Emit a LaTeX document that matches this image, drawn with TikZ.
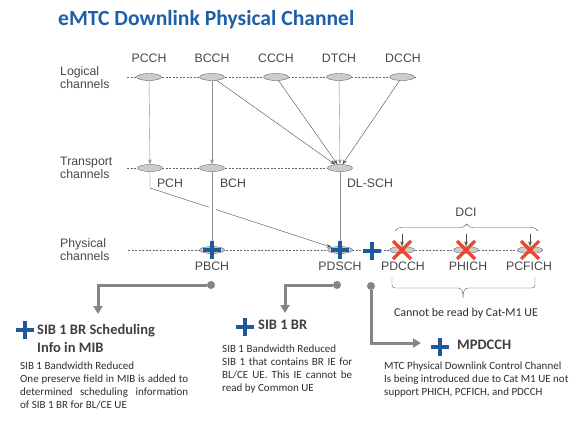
\documentclass[tikz,border=0pt]{standalone}
\usepackage{fontspec}
\setmainfont{Carlito}
\newfontfamily\arialf{Liberation Sans}
\usetikzlibrary{shapes.geometric,arrows.meta,decorations.pathreplacing}
\setlength{\parindent}{0pt}
\definecolor{titleblue}{HTML}{1F5FA8}
\definecolor{plusblue}{HTML}{1E5A9A}
\definecolor{xred}{HTML}{EC4A2C}
\definecolor{txtgray}{HTML}{2E2E2E}
\definecolor{conngray}{HTML}{858585}
\tikzset{
  bplus/.pic={\draw[plusblue,line width=4pt] (-9,0)--(9,0) (0,-9)--(0,9);},
  xmark/.pic={\draw[xred,line width=3.2pt] (-9,-9)--(9,9) (-9,9)--(9,-9);}
}
\begin{document}
\begin{tikzpicture}[x=1pt,y=-1pt]
\tikzstyle{chan} = [ellipse,draw=black!60,fill=black!20,minimum width=25pt,minimum height=7pt,inner sep=0pt] %canaux
\tikzstyle{lbl} = [font=\arialf\fontsize{12.3}{13}\selectfont,text=black!72,inner sep=0pt]
\tikzstyle{row} = [dashed,dash pattern=on 2pt off 1.5pt,black!60]
\tikzstyle{flow} = [black!70,-{Stealth[length=5pt,width=3.5pt]}]
\tikzstyle{flowg} = [black!45,-{Stealth[length=5pt,width=3.5pt]}]
\tikzstyle{dot} = [circle,fill=conngray,minimum size=8pt,inner sep=0pt]
\tikzstyle{conn} = [conngray,line width=3pt,-{Triangle[length=8pt,width=9pt]}]
\tikzstyle{head} = [font=\bfseries\fontsize{14.5}{18}\selectfont,text=black!75,inner sep=0pt]
\tikzstyle{body} = [font=\fontsize{11}{13}\selectfont,text=txtgray,inner sep=0pt]
\useasboundingbox (0,0) rectangle (578,426);

%titre
\node[font=\bfseries\fontsize{21.6}{24}\selectfont,text=titleblue,anchor=west,inner sep=0pt] (title) at (58,20) {eMTC Downlink Physical Channel};

%lignes pointillees
\draw[row] (127,77)--(417,77);
\draw[row] (127,168)--(340,168);
\draw[row] (128,250)--(543,250);

%noms des niveaux
\node[lbl,anchor=west,align=left] (logic) at (60,78) {Logical\\channels};
\node[lbl,anchor=west,align=left] (trans) at (60,168) {Transport\\channels};
\node[lbl,anchor=west,align=left] (phys) at (60,250) {Physical\\channels};

%canaux logiques
\node[chan] (pcch) at (149,77) {};
\node[chan] (bcch) at (212,77) {};
\node[chan] (ccch) at (276,77) {};
\node[chan] (dtch) at (339,77) {};
\node[chan] (dcch) at (402,77) {};
\node[lbl] (pcchT) at (149,58) {PCCH};
\node[lbl] (bcchT) at (212,58) {BCCH};
\node[lbl] (ccchT) at (276,58) {CCCH};
\node[lbl] (dtchT) at (339,58) {DTCH};
\node[lbl] (dcchT) at (403,58) {DCCH};

%canaux de transport
\node[chan] (pch) at (150,168) {};
\node[chan] (bch) at (212,168) {};
\node[chan] (dlsch) at (340,168) {};
\node[lbl] (pchT) at (170,183) {PCH};
\node[lbl] (bchT) at (233,183) {BCH};
\node[lbl] (dlschT) at (370,183) {DL-SCH};

%canaux physiques
\node[chan] (pbch) at (212,250) {};
\node[chan] (pdsch) at (340,250) {};
\node[chan] (pdcch) at (402,250) {};
\node[chan] (phich) at (466,250) {};
\node[chan] (pcfich) at (530,250) {};
\node[lbl] (pbchT) at (212,266) {PBCH};
\node[lbl] (pdschT) at (340,266) {PDSCH};
\node[lbl] (pdcchT) at (403,266) {PDCCH};
\node[lbl] (phichT) at (468,266) {PHICH};
\node[lbl] (pcfichT) at (529,266) {PCFICH};

%fleches
\draw[flowg] (pcch)--(pch);
\draw[flowg] (bcch)--(bch);
\draw[flow] (bcch)--(dlsch);
\draw[flow] (ccch)--(dlsch);
\draw[flowg] (dtch)--(dlsch);
\draw[flow] (dcch)--(dlsch);
\coordinate (bend) at (150,188);
\draw[flow] (pch)--(bend)--(pdsch);
\draw[black!45,preaction={draw=white,line width=7pt}] (bch)--(pbch);
\draw[flowg] (dlsch)--(pdsch);

%DCI
\draw[black!65,decorate,decoration={brace,amplitude=7pt}] (395,231)--(538,231);
\node[lbl] (dci) at (466,212) {DCI};
\coordinate (dci1) at (402,234);
\coordinate (dci2) at (466,234);
\coordinate (dci3) at (530,234);
\draw[flow] (dci1)--(pdcch);
\draw[flow] (dci2)--(phich);
\draw[flow] (dci3)--(pcfich);
\draw[black!65,rounded corners=3pt] (392,277)--(392,288)--(458,288);
\draw[black!65,rounded corners=3pt] (468,288)--(535,288)--(535,277);
\draw[black!65] (458,288) .. controls (462,288) and (463,292) .. (463,298) .. controls (463,292) and (464,288) .. (468,288);
\node[font=\fontsize{12}{13}\selectfont,text=txtgray] (cannot) at (466,313) {Cannot be read by Cat-M1 UE};

%croix et plus
\pic at (pbch) {bplus};
\pic at (pdsch) {bplus};
\pic at (372,251) {bplus};
\pic at (pdcch) {xmark};
\pic at (phich) {xmark};
\pic at (pcfich) {xmark};

%connecteurs gris
\node[dot] (d1) at (211,285) {};
\node[dot] (d2) at (337,285) {};
\node[dot] (d3) at (371,286) {};
\coordinate (a1) at (98,314);
\coordinate (a2) at (285,313);
\coordinate (a3) at (421,343);
\draw[conn] (d1) -| (a1);
\draw[conn] (d2) -| (a2);
\draw[conn] (d3) |- (a3);

%textes du bas
\pic at (25,330) {bplus};
\node[head,anchor=north west] (sibsched) at (37,322) {\begin{tabular}{@{}l@{}}SIB 1 BR Scheduling\\Info in MIB\end{tabular}};
\node[body,anchor=north west,text width=168pt,align=justify] (sibschedB) at (20,362) {SIB 1 Bandwidth Reduced\\One preserve field in MIB is added to\linebreak determined scheduling information\linebreak of SIB 1 BR for BL/CE UE};

\pic at (245,327) {bplus};
\node[head,anchor=north west] (sib) at (258,320) {SIB 1 BR};
\node[body,anchor=north west,text width=130pt,align=justify] (sibB) at (222,345) {SIB 1 Bandwidth Reduced\\SIB 1 that contains BR IE for\linebreak BL/CE UE. This IE cannot be\linebreak read by Common UE};

\pic at (440,347) {bplus};
\node[head,anchor=north west] (mpdcch) at (457,340) {MPDCCH};
\node[body,anchor=north west,align=left] (mpdcchB) at (384,362) {MTC Physical Downlink Control Channel\\Is being introduced due to Cat M1 UE not\\support PHICH, PCFICH, and PDCCH};
\end{tikzpicture}
\end{document}
